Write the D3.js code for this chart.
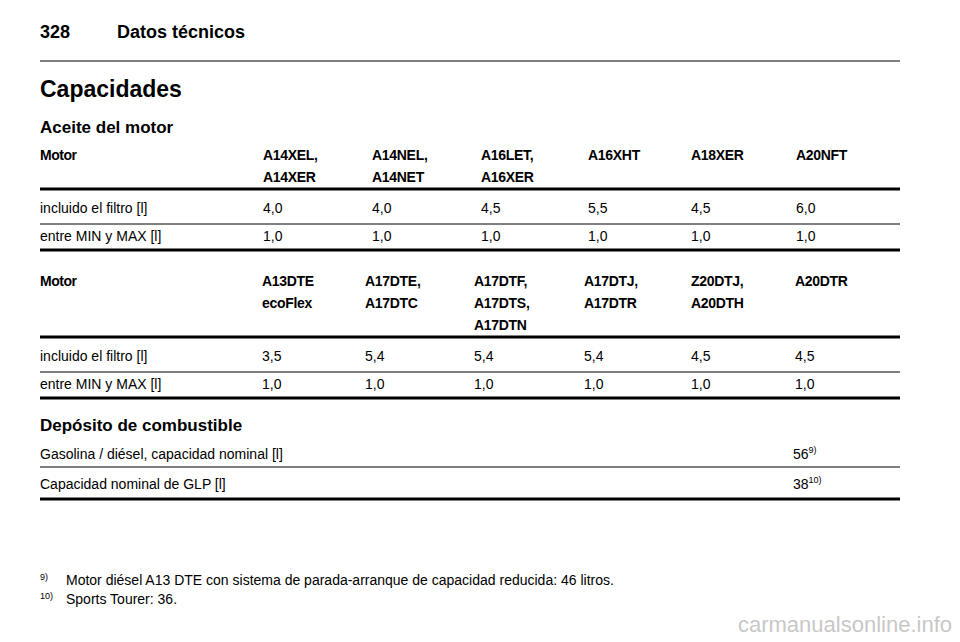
<!DOCTYPE html>
<html><head><meta charset="utf-8">
<script src="https://cdn.jsdelivr.net/npm/d3@7"></script>
<style>body{margin:0;background:#fff}text{font-family:"Liberation Sans",Arial,sans-serif;fill:#000}</style>
</head><body>
<script>
// Table data
var motors1 = [["A14XEL,","A14XER"],["A14NEL,","A14NET"],["A16LET,","A16XER"],["A16XHT"],["A18XER"],["A20NFT"]];
var filtro1 = ["4,0","4,0","4,5","5,5","4,5","6,0"];
var minmax1 = ["1,0","1,0","1,0","1,0","1,0","1,0"];
var cols1 = [263,372,481,588,691,796];

var motors2 = [["A13DTE","ecoFlex"],["A17DTE,","A17DTC"],["A17DTF,","A17DTS,","A17DTN"],["A17DTJ,","A17DTR"],["Z20DTJ,","A20DTH"],["A20DTR"]];
var filtro2 = ["3,5","5,4","5,4","5,4","4,5","4,5"];
var minmax2 = ["1,0","1,0","1,0","1,0","1,0","1,0"];
var cols2 = [262,365,474,584,691,795];

var fuelLabels = ["Gasolina / diésel, capacidad nominal [l]","Capacidad nominal de GLP [l]"];
var fuelValues = ["56","38"];
var fuelNotes = ["9)","10)"];

var footnotes = [["9)","Motor diésel A13 DTE con sistema de parada-arranque de capacidad reducida: 46 litros."],["10)","Sports Tourer: 36."]];

var svg = d3.select("body").append("svg").attr("width",960).attr("height",642);

var text = function(x,y,s,size,bold){
    return svg.append("text").attr("x",x).attr("y",y).attr("font-size",size)
        .attr("font-weight",bold?"bold":"normal").text(s);
};
var line = function(y,w){
    svg.append("line").attr("x1",40).attr("x2",900).attr("y1",y).attr("y2",y)
        .attr("stroke","#000").attr("stroke-width",w);
};

text(40,38,"328",18,true);
text(117,38,"Datos técnicos",18,true);
line(61,1);
text(40,97,"Capacidades",23,true);
text(40,133,"Aceite del motor",17,true);

//**************************************************************************
//** drawTable
//**************************************************************************
var drawTable = function(y0, motors, cols, filtro, minmax){
    text(40,y0,"Motor",14,true).attr("letter-spacing",-0.5);
    var maxLines = d3.max(motors, function(d){return d.length;});
    motors.forEach(function(m,i){
        m.forEach(function(s,j){ text(cols[i],y0+j*22,s,14,true).attr("letter-spacing",-0.3); });
    });
    var yl = y0 + (maxLines-1)*22 + 7;
    line(yl,3);
    var r1 = yl+24;
    text(40,r1,"incluido el filtro [l]",14);
    filtro.forEach(function(v,i){ text(cols[i],r1,v,14); });
    line(r1+11,1);
    var r2 = r1+28;
    text(40,r2,"entre MIN y MAX [l]",14);
    minmax.forEach(function(v,i){ text(cols[i],r2,v,14); });
    line(r2+9,3);
};

drawTable(160,motors1,cols1,filtro1,minmax1);
drawTable(286,motors2,cols2,filtro2,minmax2);

text(40,431,"Depósito de combustible",17,true);
fuelLabels.forEach(function(s,i){
    var y = 459+i*30;
    text(40,y,s,14);
    var t = text(793,y,fuelValues[i],14);
    t.append("tspan").attr("font-size",9).attr("dy",-6).text(fuelNotes[i]);
    line(y+8+(i?2:0), i?3:1);
});

footnotes.forEach(function(f,i){
    var y = 585+i*19;
    text(40,y-5,f[0],9);
    text(66,y,f[1],14);
});

text(952,632,"carmanualsonline.info",22).attr("text-anchor","end").style("fill","#c8c8c8");
</script>
</body></html>
